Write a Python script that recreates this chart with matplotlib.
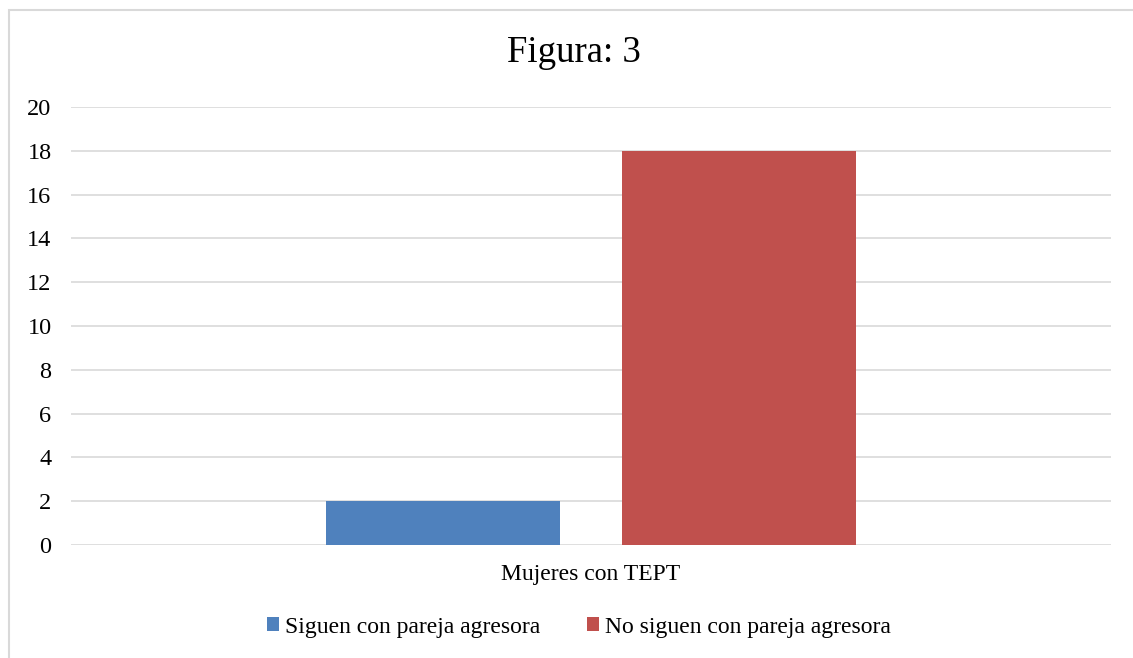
import matplotlib
matplotlib.use("Agg")
import matplotlib.pyplot as plt
from matplotlib.patches import Rectangle, Patch

plt.rcParams['font.family'] = ['Liberation Serif', 'DejaVu Serif']

title = "Figura: 3"
category = "Mujeres con TEPT"
series_names = ["Siguen con pareja agresora", "No siguen con pareja agresora"]
series_values = [2, 18]
series_colors = ["#4F81BD", "#C0504D"]
yticks = [0, 2, 4, 6, 8, 10, 12, 14, 16, 18, 20]

fig = plt.figure(figsize=(11.33, 6.58), dpi=100)
fig.patches.append(Rectangle((9/1133, -0.1), 1.2, 1 - 10/658 + 0.1, transform=fig.transFigure,
                             fill=False, edgecolor="#d9d9d9", linewidth=1.5))
ax = fig.add_axes([71/1133, 1 - 545/658, 1040/1133, 438/658])

offsets = [-0.1425, 0.1425]
width = 0.225
for off, v, c, n in zip(offsets, series_values, series_colors, series_names):
    ax.bar(off, v, width=width, color=c, label=n, zorder=3)

ax.set_xlim(-0.5, 0.5)
ax.set_ylim(0, 20)
ax.set_yticks(yticks)
ax.set_yticklabels([str(t) for t in yticks], fontsize=17.5)
ax.set_xticks([0])
ax.set_xticklabels([category], fontsize=17)
ax.tick_params(axis='both', length=0)
ax.tick_params(axis='y', pad=14)
ax.tick_params(axis='x', pad=14)
ax.grid(axis='y', color="#d9d9d9", linewidth=1.2, zorder=0)
for s in ax.spines.values():
    s.set_visible(False)

fig.text(574/1133, 1 - 53/658, title, ha='center', va='center', fontsize=26.5)

handles = [Patch(facecolor=c, label=n) for c, n in zip(series_colors, series_names)]
fig.legend(handles=handles, loc='center', bbox_to_anchor=(579/1133, 1 - 627/658), ncol=2,
           frameon=False, fontsize=17, handlelength=0.5, handleheight=0.5,
           handletextpad=0.25, columnspacing=2.0)

fig.savefig("out.png", dpi=100)
